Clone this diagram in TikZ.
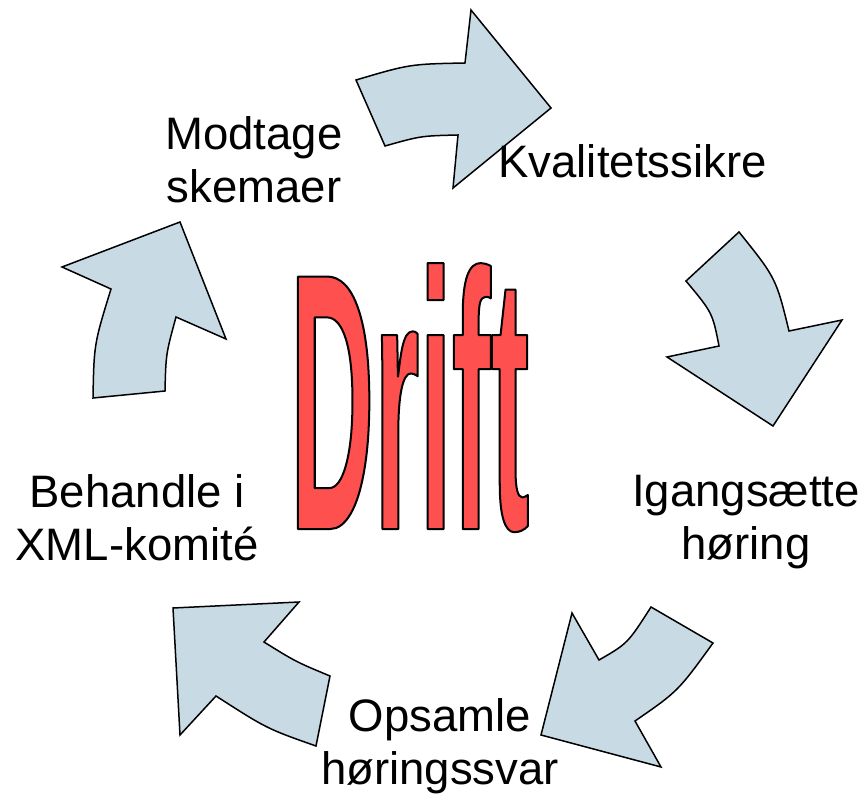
\documentclass[tikz,border=0pt]{standalone}
\usepackage{fontspec}
\setmainfont{Liberation Sans}
\newfontfamily\driftfont{Liberation Sans Bold}[FakeStretch=0.317]
\definecolor{arrowfill}{RGB}{200,219,229}
\definecolor{driftred}{RGB}{255,80,80}
\begin{document}
\begin{tikzpicture}[x=1pt,y=-1pt,
  blockarrow/.style={draw=black, line width=1.5pt, fill=arrowfill, line join=miter},
  steplabel/.style={font=\fontsize{45.5}{53}\selectfont, align=center, inner sep=0pt, text=black}]
\useasboundingbox (0,0) rectangle (861,794);

% top arrow
\draw[blockarrow] (356,80) .. controls (409.8,64.1) .. (465,63) -- (471,10) -- (551,108)
  -- (453,188) -- (458,135) .. controls (420.8,135.9) .. (385,146) -- cycle;
% right arrow
\draw[blockarrow] (686,281) -- (739,232) .. controls (776,278.1) .. (789,331) -- (842,320)
  -- (773,426) -- (667,357) -- (719,346) .. controls (712.5,312.8) .. cycle;
% bottom-right arrow
\draw[blockarrow] (651,607) -- (713,643) .. controls (678,691.3) .. (635,721) -- (661,767)
  -- (541,735) -- (572,613) -- (599,660) .. controls (627.6,643.5) .. cycle;
% bottom-left arrow
\draw[blockarrow] (173,608) -- (299,602) -- (264,642) .. controls (295.7,661.7) .. (330,676)
  -- (316,746) .. controls (266.9,728.7) .. (216,696) -- (180,735) -- cycle;
% left arrow
\draw[blockarrow] (93,398) -- (165,391) .. controls (165.9,354) .. (176,317) -- (226,339)
  -- (180,222) -- (62,267) -- (111,289) .. controls (94,344.1) .. cycle;

% labels
\node[steplabel] (modtage) at (254,160) {Modtage\\skemaer};
\node[steplabel] (kval) at (632.5,161) {Kvalitetssikre};
\node[steplabel] (igang) at (746,522) {Igangsætte\\høring};
\node[steplabel] (opsamle) at (440,746) {Opsamle\\høringssvar};
\node[steplabel] (behandle) at (137,518) {Behandle i\\XML-komité};

% Drift word art
\node[anchor=base west, inner sep=0pt, text=driftred] (drift) at (290,529)
  {\driftfont\fontsize{367}{367}\selectfont\special{pdf:literal direct 0 0 0 RG 2 w 1 j 2 Tr}Drift\special{pdf:literal direct 0 Tr}};
\end{tikzpicture}
\end{document}
